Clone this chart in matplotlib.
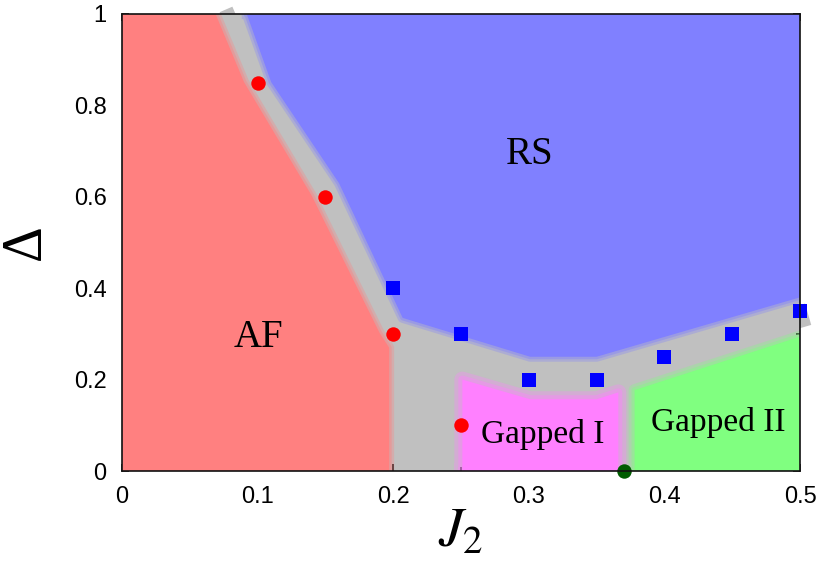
import numpy as np
import matplotlib
matplotlib.use('Agg')
import matplotlib.pyplot as plt

plt.rcParams['mathtext.fontset'] = 'stix'

# phase regions (J2, Delta) vertices
af_x = [0.0, 0.0, 0.069, 0.090, 0.140, 0.190, 0.197, 0.197]
af_y = [0.0, 1.0, 1.0, 0.851, 0.602, 0.302, 0.27, 0.0]
rs_x = [0.092, 0.110, 0.160, 0.207, 0.301, 0.350, 0.5, 0.5]
rs_y = [1.0, 0.851, 0.63, 0.335, 0.25, 0.25, 0.38, 1.0]
g1_x = [0.251, 0.251, 0.301, 0.350, 0.366, 0.366]
g1_y = [0.0, 0.200, 0.157, 0.157, 0.172, 0.0]
g2_x = [0.378, 0.378, 0.5, 0.5]
g2_y = [0.0, 0.177, 0.294, 0.0]

# transition points
red_x = [0.10, 0.15, 0.20, 0.25]
red_y = [0.85, 0.60, 0.30, 0.10]
blue_x = [0.20, 0.25, 0.30, 0.35, 0.40, 0.45, 0.50]
blue_y = [0.40, 0.30, 0.20, 0.20, 0.25, 0.30, 0.35]
green_x = [0.37]
green_y = [0.0]

# gray band ends sticking out of the frame
band_top_x = [0.0767, 0.10]
band_top_y = [1.010, 0.85]
band_right_x = [0.47, 0.506]
band_right_y = [0.312, 0.343]

xticks = [0, 0.1, 0.2, 0.3, 0.4, 0.5]
xlabels = ['0', '0.1', '0.2', '0.3', '0.4', '0.5']
yticks = [0, 0.2, 0.4, 0.6, 0.8, 1.0]
ylabels = ['0', '0.2', '0.4', '0.6', '0.8', '1']

gray = '#c0c0c0'
c_af = '#ff8080'
c_rs = '#8080ff'
c_g1 = '#ff80ff'
c_g2 = '#80ff80'


def blob(ax, xs, ys, color, halo=6):
    xc = list(xs) + [xs[0]]
    yc = list(ys) + [ys[0]]
    ax.plot(xc, yc, color=color, lw=2 * halo * 0.72, alpha=0.3,
            solid_joinstyle='round', zorder=2)
    ax.plot(xc, yc, color=color, lw=halo * 0.72, alpha=0.4,
            solid_joinstyle='round', zorder=2)
    ax.fill(xs, ys, color=color, lw=0, zorder=3)


fig = plt.figure(figsize=(8.22, 5.64), dpi=100)
ax = fig.add_axes([122 / 822, 1 - 471 / 564, 678 / 822, 457 / 564])
ax.set_facecolor(gray)
ax.set_xlim(0, 0.5)
ax.set_ylim(0, 1)

ax.plot(band_top_x, band_top_y, color=gray, lw=10, solid_capstyle='butt',
        clip_on=False, zorder=1)
ax.plot(band_right_x, band_right_y, color=gray, lw=16, solid_capstyle='butt',
        clip_on=False, zorder=1)

blob(ax, af_x, af_y, c_af, halo=5)
blob(ax, rs_x, rs_y, c_rs, halo=5)
blob(ax, g1_x, g1_y, c_g1, halo=8)
blob(ax, g2_x, g2_y, c_g2, halo=6)

ax.plot(red_x, red_y, 'o', color='#ff0000', ms=10.4, mew=0, zorder=5)
ax.plot(blue_x, blue_y, 's', color='#0000ff', ms=10.4, mew=0, zorder=5,
        clip_on=False)
ax.plot(green_x, green_y, 'o', color='#005c00', ms=10.4, mew=0, zorder=6,
        clip_on=False)

serif = 'Liberation Serif'
ax.text(0.301, 0.672, 'RS', fontsize=28, family=serif, ha='center', va='baseline', zorder=7)
ax.text(0.1003, 0.271, 'AF', fontsize=28, family=serif, ha='center', va='baseline', zorder=7)
ax.text(0.310, 0.061, 'Gapped I', fontsize=24, family=serif, ha='center', va='baseline', zorder=7)
ax.text(0.4395, 0.0875, 'Gapped II', fontsize=24, family=serif, ha='center', va='baseline', zorder=7)

ax.set_xticks(xticks)
ax.set_xticklabels(xlabels)
ax.set_yticks(yticks)
ax.set_yticklabels(ylabels)
ax.set_xticks(np.arange(0.05, 0.5, 0.1), minor=True)
ax.set_yticks(np.arange(0.1, 1.0, 0.2), minor=True)
ax.tick_params(which='both', direction='in', top=True, right=True,
               width=1.1, color='black')
ax.tick_params(which='major', length=5, pad=11, labelsize=17)
ax.tick_params(which='minor', length=3)
for lab in ax.get_xticklabels() + ax.get_yticklabels():
    lab.set_family('Liberation Sans')
for s in ax.spines.values():
    s.set_linewidth(1.2)
    s.set_color('#111111')
    s.set_zorder(8)

fig.text(26 / 822, 1 - 242.5 / 564, '\u0394', fontsize=40, family=serif,
         rotation=90, ha='center', va='center')
fig.text(461 / 822, 1 - 532 / 564, r'$J_2$', fontsize=40,
         ha='center', va='center')

fig.savefig('out.png', dpi=100)
